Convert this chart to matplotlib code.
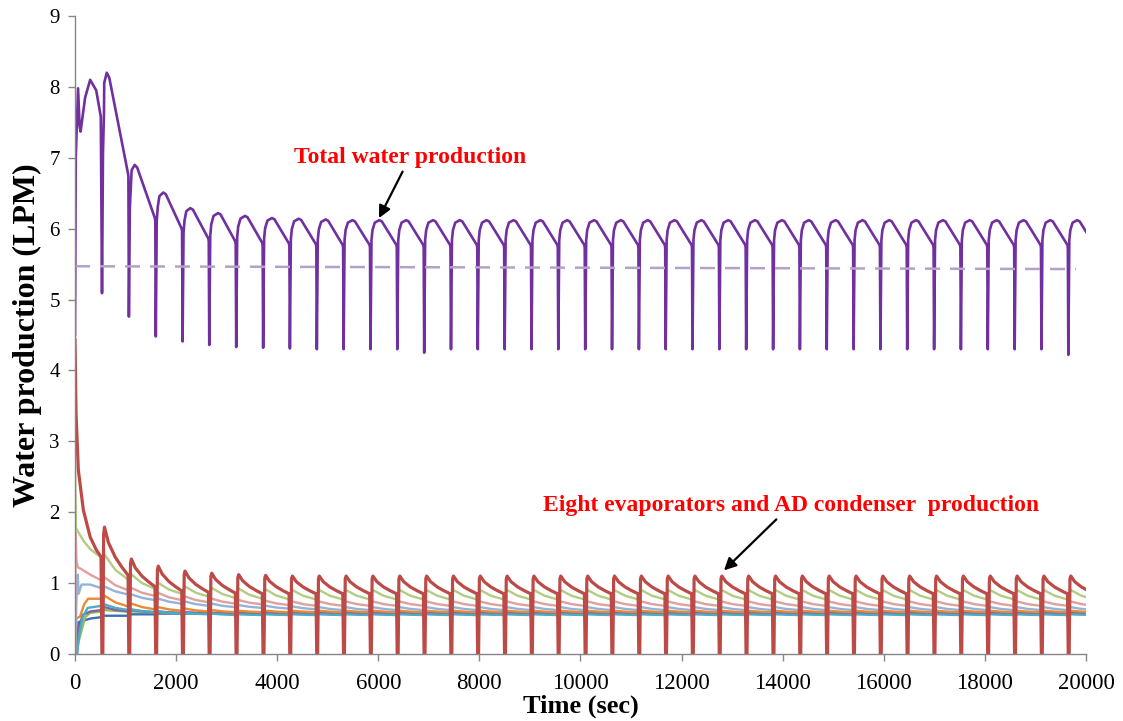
import numpy as np
import matplotlib
matplotlib.use("Agg")
import matplotlib.pyplot as plt

plt.rcParams['font.family'] = ['Liberation Serif', 'DejaVu Serif']

# times (sec) at which the beds switch -> sharp drop of every curve
drop_t = [528, 1060, 1592, 2122, 2650, 3183, 3716, 4245, 4778, 5308, 5840, 6370,
          6902, 7432, 7962, 8494, 9025, 9555, 10088, 10618, 11150, 11680, 12210,
          12742, 13272, 13805, 14335, 14866, 15398, 15928, 16458, 16990, 17520,
          18052, 18584, 19114, 19646]
n_cyc = len(drop_t)

# total water production (LPM)
tot_t0 = [0, 15, 60, 90, 110, 200, 300, 420, 510]
tot_v0 = [4.50, 7.00, 7.98, 7.45, 7.37, 7.85, 8.10, 7.95, 7.58]
tot_peak = [8.20, 6.90, 6.51, 6.29, 6.22, 6.18, 6.15, 6.14, 6.13] + [6.12] * 28
tot_end = [6.78, 6.15, 6.00, 5.86, 5.82, 5.80, 5.79, 5.78] + [5.77] * 29
tot_trough = [5.09, 4.76, 4.48, 4.41, 4.36, 4.33, 4.32, 4.31, 4.30, 4.30, 4.30,
              4.30, 4.25, 4.30, 4.30, 4.30, 4.30, 4.30, 4.30, 4.30, 4.30, 4.30,
              4.30, 4.30, 4.30, 4.30, 4.30, 4.30, 4.30, 4.30, 4.30, 4.30, 4.30,
              4.30, 4.30, 4.30, 4.22]
tot_peak_at = [100, 120, 155, 160] + [180] * 33
avg_t = [0, 19800]
avg_v = [5.47, 5.43]

# AD condenser (red)
red_t0 = [0, 20, 65, 165, 300, 420, 515]
red_v0 = [4.43, 3.40, 2.60, 2.03, 1.65, 1.47, 1.37]
red_peak = [1.79, 1.34, 1.24, 1.17, 1.14, 1.12, 1.11] + [1.10] * 30
red_end = [1.11, 0.95, 0.89, 0.87, 0.86] + [0.85] * 32

# evaporators: (t0, v0, early peaks, steady peak, early ends, steady end, dip, colour)
evap = {
    'dblue': ([0, 40, 70, 300, 520], [0.0, 0.0, 0.45, 0.50, 0.52],
              [0.54, 0.56], 0.57, [0.54, 0.56], 0.57, 0.50, '#3c6eb4'),
    'green2': ([0, 80, 200, 300, 520], [0.0, 0.20, 0.52, 0.58, 0.60],
               [0.62, 0.60, 0.59], 0.58, [0.60, 0.59, 0.58], 0.57, 0.50, '#9bbb59'),
    'purple': ([0, 50, 150, 300, 520], [0.0, 0.30, 0.55, 0.60, 0.62],
               [0.66, 0.62, 0.60, 0.59], 0.58, [0.60, 0.59, 0.58], 0.58, 0.50, '#8064a2'),
    'teal': ([0, 40, 90, 150, 250, 520], [0.0, 0.0, 0.30, 0.52, 0.65, 0.68],
             [0.70, 0.63, 0.60, 0.58, 0.57], 0.56, [0.62, 0.59, 0.57, 0.56], 0.55, 0.45, '#4bacc6'),
    'orange': ([0, 25, 100, 180, 260, 520], [0.0, 0.50, 0.53, 0.70, 0.78, 0.78],
               [0.82, 0.71, 0.66, 0.64, 0.62], 0.61, [0.67, 0.63, 0.61, 0.60], 0.59, 0.50, '#ea8a34'),
    'lblue': ([0, 30, 45, 55, 70, 130, 300, 520], [0.0, 0.80, 1.10, 1.12, 0.85, 0.98, 0.98, 0.93],
              [0.95, 0.84, 0.78, 0.74, 0.71, 0.69, 0.68, 0.67], 0.66,
              [0.84, 0.76, 0.71, 0.68, 0.66, 0.65, 0.64, 0.63], 0.62, 0.50, '#95b3d7'),
    'pink': ([0, 12, 30, 60, 120, 300, 520], [0.0, 1.72, 1.30, 1.22, 1.20, 1.12, 1.04],
             [1.08, 0.93, 0.86, 0.81, 0.78, 0.76, 0.75], 0.74,
             [0.90, 0.82, 0.76, 0.73, 0.71, 0.70, 0.69], 0.68, 0.55, '#e0a09e'),
    'lgreen': ([0, 20, 65, 165, 300, 520], [2.65, 1.78, 1.72, 1.60, 1.48, 1.36],
               [1.40, 1.12, 1.00, 0.95, 0.93, 0.92, 0.91], 0.90,
               [1.05, 0.92, 0.85, 0.81, 0.79, 0.78], 0.77, None, '#b3cc82'),
}

x_ticks = list(range(0, 20001, 2000))
y_ticks = list(range(0, 10))


def cycle_len(k):
    if k + 1 < n_cyc:
        return drop_t[k + 1] - drop_t[k]
    return 531


def total_curve():
    ts, vs = list(tot_t0), list(tot_v0)
    for k, T0 in enumerate(drop_t):
        L = cycle_len(k)
        S, P, pk = tot_end[k], tot_peak[k], tot_peak_at[k]
        ts += [T0 + 6, T0 + 25, T0 + 45, T0 + pk * 0.5, T0 + pk, T0 + pk + 50, T0 + L - 12, T0 + L - 4]
        vs += [tot_trough[k], S + 0.2 * (P - S), S + 0.6 * (P - S), S + 0.9 * (P - S), P,
               S + 0.95 * (P - S), S, S - 0.04]
    return ts, vs


def red_curve():
    ts, vs = list(red_t0), list(red_v0)
    for k, T0 in enumerate(drop_t):
        L = cycle_len(k)
        S, P = red_end[k], red_peak[k]
        ts += [T0 + 4, T0 + 22, T0 + 38, T0 + 55, T0 + 0.25 * L, T0 + 0.5 * L, T0 + 0.75 * L, T0 + L - 10]
        vs += [0, 0, S + 0.85 * (P - S), P, S + 0.68 * (P - S), S + 0.38 * (P - S), S + 0.17 * (P - S), S]
    return ts, vs


def evap_curve(t0, v0, pk_early, pk_st, end_early, end_st, dip):
    peaks = pk_early + [pk_st] * (n_cyc - len(pk_early))
    ends = end_early + [end_st] * (n_cyc - len(end_early))
    ts, vs = list(t0), list(v0)
    for k, T0 in enumerate(drop_t):
        L = cycle_len(k)
        S, P = ends[k], peaks[k]
        d = S if dip is None else dip
        ts += [T0 + 6, T0 + 30, T0 + 60, T0 + 0.5 * L, T0 + L - 10]
        vs += [d, S + 0.7 * (P - S), P, S + 0.4 * (P - S), S]
    return ts, vs


fig = plt.figure(figsize=(11.23, 7.21), dpi=100)
ax = fig.add_axes([0.0668, 0.0929, 0.9002, 0.8849])

for name, (t0, v0, pe, ps, ee, es, dip, col) in evap.items():
    t, v = evap_curve(t0, v0, pe, ps, ee, es, dip)
    ax.plot(t, v, color=col, lw=1.7, solid_joinstyle='round')

t, v = total_curve()
ax.plot(t, v, color='#7030a0', lw=1.9, solid_joinstyle='round')
t, v = red_curve()
ax.plot(t, v, color='#bc4a47', lw=2.3, solid_joinstyle='round')
ax.plot(avg_t, avg_v, color='#b3a2c7', lw=1.8, dashes=(6, 4))

ax.set_xlim(0, 20000)
ax.set_ylim(0, 9)
ax.set_xticks(x_ticks)
ax.set_yticks(y_ticks)
ax.tick_params(axis='both', colors='#868686', length=5, width=1, direction='out')
ax.tick_params(axis='x', labelcolor='black', labelsize=16.5, pad=9)
ax.tick_params(axis='y', labelcolor='black', labelsize=15, pad=6)
for s in ['top', 'right']:
    ax.spines[s].set_visible(False)
for s in ['left', 'bottom']:
    ax.spines[s].set_color('#868686')
    ax.spines[s].set_linewidth(1)

ax.set_xlabel('Time (sec)', fontsize=19, fontweight='bold', labelpad=0)
ax.set_ylabel('Water production (LPM)', fontsize=23, fontweight='bold', labelpad=5)

ax.annotate('Total water production', xy=(6014, 6.15), xytext=(6627, 7.01),
            ha='center', va='center', color='red', fontsize=17, fontweight='bold',
            arrowprops=dict(arrowstyle='-|>', color='black', lw=1.6, mutation_scale=18,
                            shrinkA=1, shrinkB=0))
ax.annotate('Eight evaporators and AD condenser  production', xy=(12839, 1.18),
            xytext=(14164, 2.10), ha='center', va='center', color='red', fontsize=17,
            fontweight='bold',
            arrowprops=dict(arrowstyle='-|>', color='black', lw=1.6, mutation_scale=18,
                            shrinkA=1, shrinkB=0))

plt.savefig('out.png', dpi=100)
